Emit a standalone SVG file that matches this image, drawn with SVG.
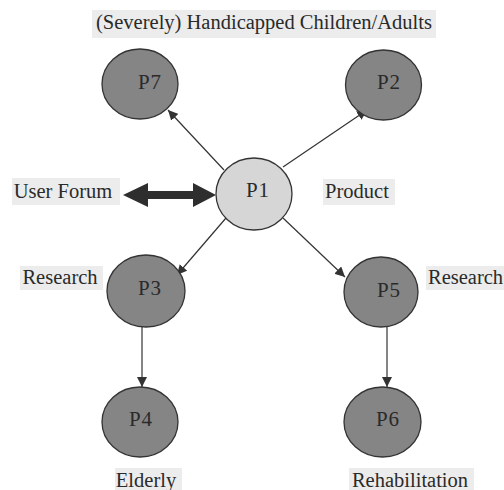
<svg xmlns="http://www.w3.org/2000/svg" width="504" height="490" viewBox="0 0 504 490">
<defs>
<style>
.node ellipse{stroke:#333;stroke-width:1.3}
.dark ellipse{fill:#858585}
.light ellipse{fill:#d6d6d6}
text{font-family:"Liberation Serif","Times New Roman",serif;fill:#2a2a2a}
.nt{font-size:21px;text-anchor:middle;letter-spacing:1px}
.lt{font-size:20.5px}
.bg{fill:#ececec}
.conn line{stroke:#333;stroke-width:1.2;marker-end:url(#ah)}
</style>
<marker id="ah" viewBox="0 0 10 10" refX="10" refY="5" markerWidth="10" markerHeight="10" markerUnits="userSpaceOnUse" orient="auto">
<path d="M0,0 L10,5 L0,10 Z" fill="#333"/>
</marker>
</defs>
<rect width="504" height="490" fill="#fff"/>
<g id="labels">
<g id="lbl-title"><rect class="bg" x="92" y="10" width="344" height="28"/><text class="lt" x="264" y="29" text-anchor="middle">(Severely) Handicapped Children/Adults</text></g>
<g id="lbl-userforum"><rect class="bg" x="12" y="178" width="108" height="27"/><text class="lt" x="63" y="198" text-anchor="middle">User Forum</text></g>
<g id="lbl-product"><rect class="bg" x="323" y="179" width="72" height="26"/><text class="lt" x="357" y="198" text-anchor="middle">Product</text></g>
<g id="lbl-research1"><rect class="bg" x="20" y="266" width="83" height="24"/><text class="lt" x="60" y="284" text-anchor="middle">Research</text></g>
<g id="lbl-research2"><rect class="bg" x="426" y="266" width="78" height="24"/><text class="lt" x="428" y="284">Research</text></g>
<g id="lbl-elderly"><rect class="bg" x="115" y="468" width="67" height="22"/><text class="lt" x="146" y="487" text-anchor="middle">Elderly</text></g>
<g id="lbl-rehab"><rect class="bg" x="349" y="468" width="125" height="22"/><text class="lt" x="410" y="487" text-anchor="middle">Rehabilitation</text></g>
</g>
<g id="connectors" class="conn">
<line x1="224" y1="170" x2="168" y2="110"/>
<line x1="283" y1="167" x2="367" y2="110"/>
<line x1="226" y1="218" x2="177" y2="275"/>
<line x1="283" y1="218" x2="345" y2="277"/>
<line x1="142" y1="327" x2="142" y2="387"/>
<line x1="387" y1="327" x2="387" y2="387"/>
<path id="double-arrow" d="M123,195 L148,183 L148,191 L193,191 L193,183 L216,195 L193,207 L193,199 L148,199 L148,207 Z" fill="#2e2e2e"/>
</g>
<g id="P7" class="node dark"><ellipse cx="140" cy="84" rx="38" ry="35"/><text class="nt" x="150" y="89">P7</text></g>
<g id="P2" class="node dark"><ellipse cx="383.5" cy="85" rx="38" ry="35"/><text class="nt" x="389" y="89">P2</text></g>
<g id="P1" class="node light"><ellipse cx="254" cy="194" rx="38" ry="36"/><text class="nt" x="258" y="197">P1</text></g>
<g id="P3" class="node dark"><ellipse cx="146" cy="291" rx="39" ry="36"/><text class="nt" x="150" y="295">P3</text></g>
<g id="P5" class="node dark"><ellipse cx="381" cy="292" rx="37" ry="35"/><text class="nt" x="389" y="297">P5</text></g>
<g id="P4" class="node dark"><ellipse cx="140" cy="422" rx="38" ry="35"/><text class="nt" x="141" y="426">P4</text></g>
<g id="P6" class="node dark"><ellipse cx="382.5" cy="422" rx="38.5" ry="35"/><text class="nt" x="388" y="426">P6</text></g>
</svg>
